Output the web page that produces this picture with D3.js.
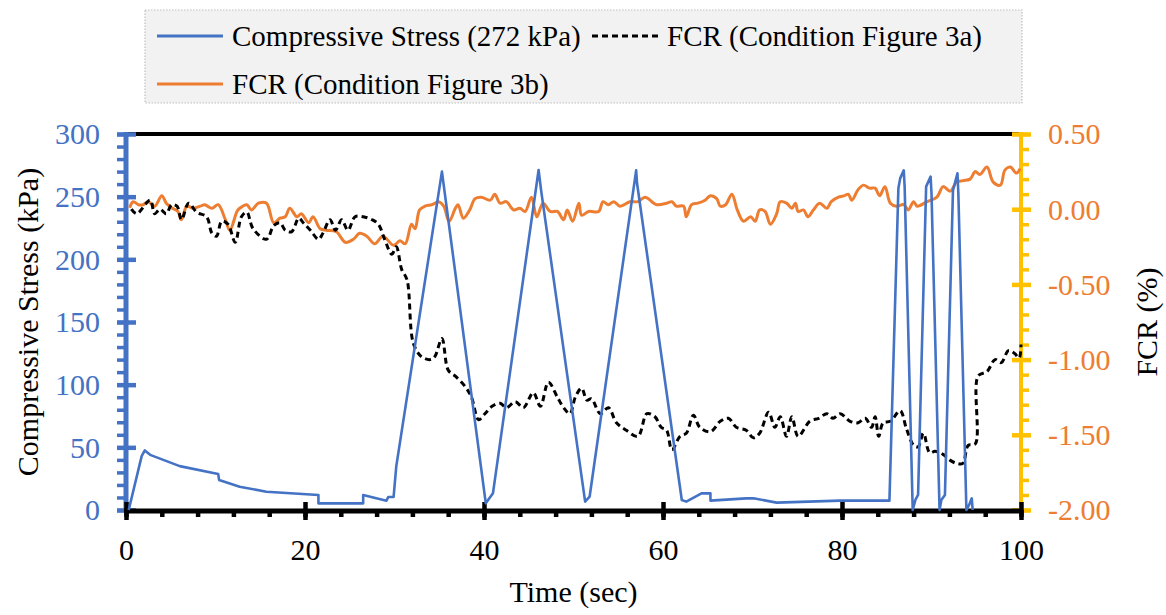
<!DOCTYPE html>
<html><head><meta charset="utf-8">
<script src="https://cdn.jsdelivr.net/npm/d3@7"></script>
<style>
html,body{margin:0;padding:0;background:#fff;}
</style></head>
<body><svg id="c" width="1166" height="615" style="font-family:'Liberation Serif'"></svg>
<script>
// ---------------- data ----------------
const seriesNames = ["Compressive Stress (272 kPa)", "FCR (Condition Figure 3a)", "FCR (Condition Figure 3b)"];
const xTicks = [0, 20, 40, 60, 80, 100];
const leftTicks = [0, 50, 100, 150, 200, 250, 300];
const rightTicks = [-2, -1.5, -1, -0.5, 0, 0.5];
const rightTickLabels = ["-2.00", "-1.50", "-1.00", "-0.50", "0.00", "0.50"];

const stressT = [0.3,1.75,2.1,2.7,6,10.3,10.4,12.7,15.7,21.5,21.5,26.5,26.5,29.1,29.3,29.9,30.2,35.3,40.2,41,46.1,46.4,51.3,51.8,57,57.1,62.1,62.6,64.3,65.3,65.3,69.3,70.1,72.7,79.8,85.3,86.3,86.5,86.9,87,87.9,88.2,88.5,89.4,89.9,90,90.9,91.1,91.5,92.4,92.9,93,93.9,94.2,94.5,94.6];
const stressV = [0,43,47.5,44,35,28.7,24,18.6,14.6,12,5.3,5.3,12,7.4,10.4,10.4,35,270,5.3,13.3,271.3,254,6.7,10.6,271,260.7,8,6.7,13.3,13.3,7.5,9.3,9.3,5.9,7.5,7.5,256.6,264.6,271,258,0,8,12,258,266,252.7,0,8,12,255,268.6,252.7,0,4,9.3,0];

const fcrAT = [0.6,1.2,2.7,3.2,3.8,4.5,5.1,5.7,6.2,7,7.9,9,9.6,10.1,10.7,11.4,12.2,12.9,13.5,14.2,15.7,16.5,17.2,17.8,18.5,19.3,19.8,20.6,21.5,22,22.8,23.4,24.1,24.8,25.6,26.5,27.5,28.2,28.9,29.7,30.2,30.8,31.4,32.1,33,34,34.5,35.3,36,36.8,37.9,38.6,39.4,40.1,40.9,41.8,42.5,43.5,44.4,45.5,46.3,47.2,48.2,48.9,49.6,50.2,50.9,51.5,52,53,53.9,54.8,55.9,57.2,58.2,59.1,59.8,60.4,61,61.9,62.6,63.4,64.1,65.3,66.4,67.3,68.2,69.3,70.1,70.8,71.8,72.5,73.1,73.8,74.4,75.1,76.4,77.4,78.3,79,79.8,80.9,81.8,82.6,83.3,83.7,84.1,84.6,85.4,86.5,87.2,88,88.5,89.1,89.8,90.4,91.3,92.1,92.8,93.5,94.1,94.9,95.2,96.2,97.1,97.8,98.6,99.3,99.8,100];
const fcrAV = [0.0,-0.03,0.06,-0.03,0.0,-0.03,0.03,0.02,-0.07,0.04,-0.02,-0.05,-0.16,-0.18,-0.08,-0.1,-0.22,-0.05,-0.02,-0.13,-0.2,-0.11,-0.09,-0.14,-0.15,-0.06,-0.09,-0.14,-0.2,-0.16,-0.07,-0.14,-0.07,-0.14,-0.05,-0.05,-0.07,-0.1,-0.2,-0.3,-0.25,-0.4,-0.47,-0.89,-0.98,-1.0,-0.98,-0.86,-1.07,-1.11,-1.18,-1.25,-1.4,-1.36,-1.31,-1.29,-1.32,-1.28,-1.32,-1.22,-1.31,-1.15,-1.25,-1.32,-1.36,-1.25,-1.19,-1.27,-1.26,-1.36,-1.32,-1.42,-1.47,-1.51,-1.36,-1.38,-1.45,-1.47,-1.6,-1.51,-1.49,-1.37,-1.45,-1.48,-1.41,-1.39,-1.45,-1.47,-1.52,-1.49,-1.35,-1.45,-1.38,-1.51,-1.38,-1.51,-1.41,-1.39,-1.36,-1.39,-1.36,-1.41,-1.42,-1.39,-1.45,-1.38,-1.51,-1.42,-1.41,-1.34,-1.46,-1.57,-1.58,-1.49,-1.62,-1.61,-1.63,-1.67,-1.69,-1.69,-1.57,-1.56,-1.11,-1.08,-1.0,-1.02,-0.94,-0.96,-0.99,-0.9];

const fcrBT = [0.4,0.8,1.4,1.9,2.5,3.2,4,4.5,5.1,5.8,6.2,6.8,7.5,8.3,8.8,9.6,10.3,11.1,11.6,12.4,12.7,13.5,14,14.8,15.7,16.5,17.2,17.8,18.3,19.1,19.6,20.4,20.9,21.7,22.4,23.5,24.5,25.4,26.1,26.9,27.8,28.7,29.9,30.6,31.2,31.9,32.3,32.8,33.4,34.2,34.9,35.5,36.1,36.8,37.1,37.7,38.4,39,39.7,40.7,41.2,41.8,42.5,43.3,44,44.6,45.3,45.9,46.6,47.4,48.2,48.9,49.3,49.9,50.6,50.9,51.7,52.8,53.3,53.9,54.5,55.2,56.3,57.2,58,59.3,60.4,61,61.5,62.3,62.6,63.2,63.9,64.7,65.3,66,66.4,67,67.7,68.3,69,69.8,70.3,70.8,71.4,72,72.7,73.1,73.8,74.4,74.8,75.1,75.7,76.2,76.8,77.5,78.3,78.8,79.6,80.3,80.7,81.1,81.8,82.4,83.1,83.7,84.2,84.8,85.4,86.1,86.9,87.4,88,88.4,89.5,90.6,91.3,92.1,92.8,93.5,94.3,94.9,95.4,96.2,96.9,97.7,98.2,98.8,99.5,99.9];
const fcrBV = [0.01,0.05,0.03,0.03,0.05,0.02,0.09,0.04,0.01,-0.015,-0.07,0.02,0.006,0.02,0.03,0.006,0.03,-0.07,-0.14,-0.015,0.006,0.03,-0.005,0.04,0.04,-0.09,-0.06,-0.05,0.006,-0.05,-0.03,-0.09,-0.05,-0.13,-0.14,-0.15,-0.22,-0.2,-0.16,-0.18,-0.23,-0.18,-0.24,-0.21,-0.23,-0.1,-0.13,-0.005,0.02,0.03,0.05,0.02,-0.08,0.006,0.03,-0.06,-0.005,0.07,0.08,0.06,0.1,0.04,0.05,-0.005,0.006,-0.015,0.08,-0.05,0.04,-0.015,-0.015,-0.07,-0.005,-0.08,0.04,-0.04,-0.015,-0.015,0.05,0.03,0.05,0.02,0.05,0.05,0.08,0.03,0.04,0.05,0.02,0.02,-0.05,0.03,0.04,0.06,0.09,0.07,0.02,0.03,0.1,-0.005,-0.08,-0.05,-0.08,-0.005,-0.015,-0.1,-0.03,0.05,0.04,0.006,0.04,-0.015,-0.005,-0.05,-0.005,0.04,0.006,0.05,0.08,0.09,0.1,0.06,0.13,0.16,0.14,0.14,0.09,0.15,0.04,0.02,0.03,-0.005,0.05,0.02,0.05,0.08,0.15,0.12,0.18,0.19,0.2,0.25,0.23,0.28,0.18,0.16,0.26,0.28,0.24,0.27];

// ---------------- layout ----------------
const FONT = "'Liberation Serif', 'Times New Roman', serif";
const BLUE = "#4472C4", ORANGE = "#ED7D31", YELLOW = "#FFC000";
const L = 126, R = 1021, T = 134, B = 510;
const svg = d3.select("#c");
const x = d3.scaleLinear().domain([0, 100]).range([L, R]);
const yL = d3.scaleLinear().domain([0, 300]).range([B, T]);
const yR = d3.scaleLinear().domain([-2, 0.5]).range([B, T]);
const FS = 30;
const DASH = "6,4";

// top black frame line
svg.append("line").attr("x1", L).attr("x2", R).attr("y1", T).attr("y2", T)
  .attr("stroke", "#000").attr("stroke-width", 4);

// left axis (blue)
const gl = svg.append("g").attr("transform", `translate(${L},0)`);
gl.call(d3.axisLeft(yL).tickValues(d3.range(0, 301, 10)).tickSize(9).tickFormat(""));
gl.select(".domain").remove();
gl.selectAll(".tick line").attr("stroke", BLUE).attr("stroke-width", 3.5);
gl.append("line").attr("x1", 0).attr("x2", 0).attr("y1", T - 2).attr("y2", B + 2).attr("stroke", BLUE).attr("stroke-width", 5);
const glm = svg.append("g").attr("transform", `translate(${L},0)`);
glm.call(d3.axisLeft(yL).tickValues(leftTicks).tickSize(9).tickPadding(17).tickFormat(d3.format("d")));
glm.attr("font-family", FONT);
glm.select(".domain").remove();
glm.selectAll(".tick line").attr("x1", 10).attr("x2", -9).attr("stroke", BLUE).attr("stroke-width", 4.5);
glm.selectAll(".tick text").attr("fill", BLUE).attr("font-size", FS).attr("dy", "0.33em");

// right axis (yellow)
const gr = svg.append("g").attr("transform", `translate(${R},0)`);
gr.call(d3.axisRight(yR).tickValues(d3.range(-20, 6, 1).map(v => v / 10)).tickSize(8).tickFormat(""));
gr.select(".domain").remove();
gr.selectAll(".tick line").attr("stroke", YELLOW).attr("stroke-width", 3.5);
gr.append("line").attr("x1", 0).attr("x2", 0).attr("y1", T - 2).attr("y2", B + 2).attr("stroke", YELLOW).attr("stroke-width", 4);
const grm = svg.append("g").attr("transform", `translate(${R},0)`);
grm.call(d3.axisRight(yR).tickValues(rightTicks).tickSize(10).tickPadding(17)
  .tickFormat(d => rightTickLabels[rightTicks.indexOf(d)]));
grm.attr("font-family", FONT);
grm.select(".domain").remove();
grm.selectAll(".tick line").attr("x1", -9).attr("x2", 10).attr("stroke", YELLOW).attr("stroke-width", 4.5);
grm.selectAll(".tick text").attr("fill", ORANGE).attr("font-size", FS).attr("dy", "0.33em");

// bottom axis (black)
const gb = svg.append("g").attr("transform", `translate(0,${B})`);
gb.call(d3.axisBottom(x).tickValues(d3.range(0, 101, 4)).tickSize(7).tickFormat(""));
gb.select(".domain").remove();
gb.selectAll(".tick line").attr("stroke", "#000").attr("stroke-width", 4.5);
gb.append("line").attr("x1", L - 2).attr("x2", R + 2).attr("y1", 1).attr("y2", 1).attr("stroke", "#000").attr("stroke-width", 5);
const gbm = svg.append("g").attr("transform", `translate(0,${B})`);
gbm.call(d3.axisBottom(x).tickValues(xTicks).tickSize(10).tickPadding(17).tickFormat(d3.format("d")));
gbm.attr("font-family", FONT);
gbm.select(".domain").remove();
gbm.selectAll(".tick line").attr("y1", -8).attr("y2", 10).attr("stroke", "#000").attr("stroke-width", 4.5);
gbm.selectAll(".tick text").attr("fill", "#000").attr("font-size", FS).attr("dy", "0.75em");

// axis titles
svg.append("text").attr("transform", `translate(38,${(T + B) / 2}) rotate(-90)`)
  .attr("font-family", FONT)
  .attr("text-anchor", "middle").attr("font-size", FS).attr("fill", "#000").text("Compressive Stress (kPa)");
svg.append("text").attr("transform", `translate(1157,${(T + B) / 2}) rotate(-90)`)
  .attr("font-family", FONT)
  .attr("text-anchor", "middle").attr("font-size", FS).attr("fill", "#000").text("FCR (%)");
svg.append("text").attr("x", (L + R) / 2).attr("y", 602)
  .attr("font-family", FONT)
  .attr("text-anchor", "middle").attr("font-size", FS).attr("fill", "#000").text("Time (sec)");

// ---------------- data lines ----------------
const stress = stressT.map((t, i) => [t, stressV[i]]);
const fcrA = fcrAT.map((t, i) => [t, fcrAV[i]]);
const fcrB = fcrBT.map((t, i) => [t, fcrBV[i]]);

const lineL = d3.line().x(d => x(d[0])).y(d => yL(d[1]));
const lineR = d3.line().x(d => x(d[0])).y(d => yR(d[1])).curve(d3.curveCatmullRom.alpha(0.5));

svg.append("path").datum(fcrB).attr("d", lineR).attr("fill", "none")
  .attr("stroke", ORANGE).attr("stroke-width", 3).attr("stroke-linejoin", "round");
svg.append("path").datum(fcrA).attr("d", lineR).attr("fill", "none")
  .attr("stroke", "#000").attr("stroke-width", 3).attr("stroke-dasharray", DASH);
svg.append("path").datum(stress).attr("d", lineL).attr("fill", "none")
  .attr("stroke", BLUE).attr("stroke-width", 2.6).attr("stroke-linejoin", "round");

// ---------------- legend ----------------
const lg = svg.append("g");
lg.append("rect").attr("x", 145).attr("y", 10).attr("width", 877).attr("height", 93)
  .attr("fill", "#F2F2F2").attr("stroke", "#BFBFBF").attr("stroke-width", 1.2).attr("stroke-dasharray", "1.5,1.5");
const legItems = [
  {name: seriesNames[0], color: BLUE, dash: null, x: 157, y: 36},
  {name: seriesNames[1], color: "#000", dash: DASH, x: 592, y: 36},
  {name: seriesNames[2], color: ORANGE, dash: null, x: 157, y: 84}
];
legItems.forEach(it => {
  lg.append("line").attr("x1", it.x).attr("x2", it.x + 66).attr("y1", it.y).attr("y2", it.y)
    .attr("stroke", it.color).attr("stroke-width", 3).attr("stroke-dasharray", it.dash);
  lg.append("text").attr("x", it.x + 75).attr("y", it.y).attr("dy", "0.33em")
    .attr("font-family", FONT)
    .attr("font-size", 29).attr("fill", "#000").text(it.name);
});
</script></body></html>
